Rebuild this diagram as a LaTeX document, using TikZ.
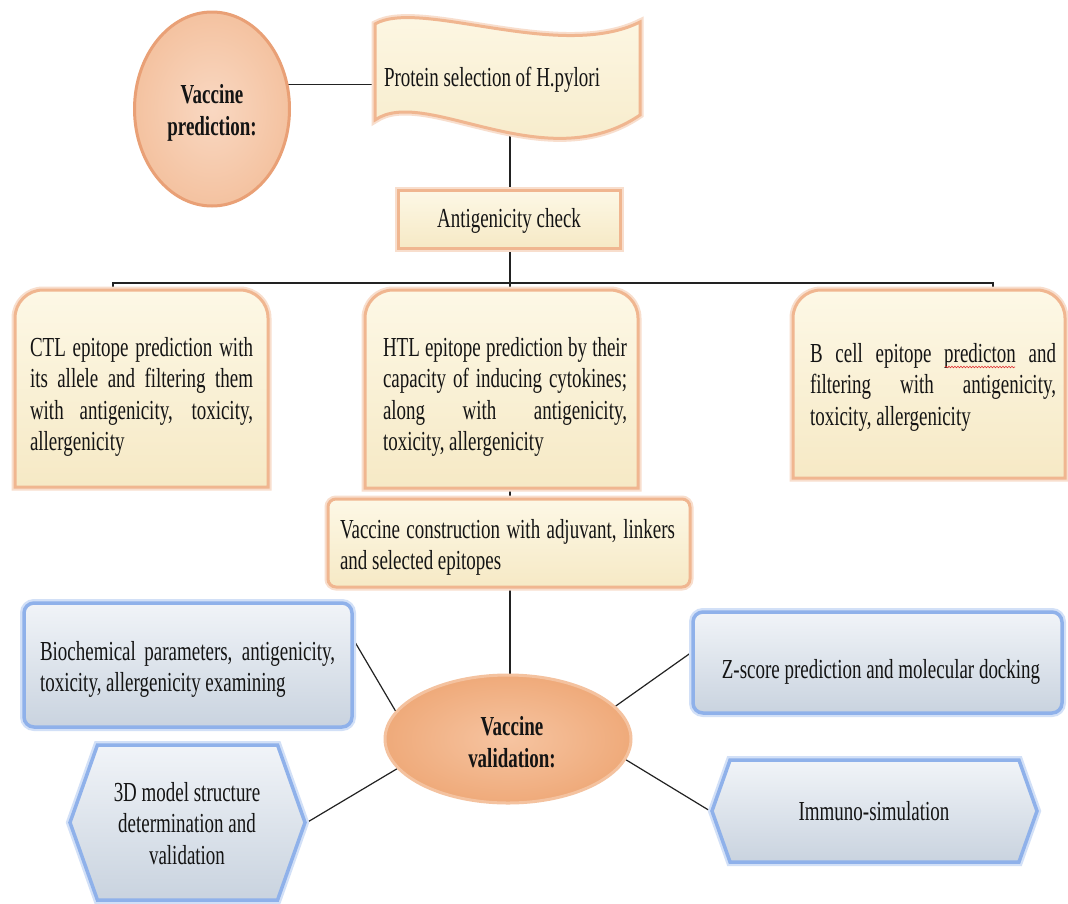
\documentclass[tikz,border=0pt]{standalone}
\usepackage{fontspec}
\setmainfont{Liberation Serif}[FakeStretch=0.69]
\usetikzlibrary{shapes.geometric,shapes.symbols,backgrounds,calc,decorations.pathmorphing}
\definecolor{creamT}{HTML}{FDF8E6}
\definecolor{creamB}{HTML}{F6E9C5}
\definecolor{creamE}{HTML}{F0B690}
\definecolor{blueT}{HTML}{F1F4F8}
\definecolor{blueB}{HTML}{C9D3DF}
\definecolor{blueE}{HTML}{8FB1EA}
\definecolor{predI}{HTML}{F9D8C2}
\definecolor{predO}{HTML}{F4C2A0}
\definecolor{predE}{HTML}{E9A076}
\definecolor{validI}{HTML}{F6C4A1}
\definecolor{validO}{HTML}{EFAA7A}
\definecolor{validE}{HTML}{F4C29F}
\definecolor{linec}{HTML}{222222}
\definecolor{textc}{HTML}{141414}
\definecolor{spellred}{HTML}{E03030}
\newcommand{\jline}[2]{\makebox[#1][s]{#2}}
\newcommand{\tallrule}{\rule{0pt}{20pt}}
\tikzset{
  txt/.style={inner sep=0pt, outer sep=0pt, text=textc, font=\fontsize{27.5}{31.5}\selectfont},
  btxt/.style={inner sep=0pt, outer sep=0pt, text=textc, font=\fontsize{27.5}{32}\selectfont\bfseries},
  conn/.style={draw=linec, line width=1.2pt},
  slot/.style={inner sep=0pt, outer sep=0pt, draw=none},
  cream/.style={preaction={draw=creamE!45, line width=7pt}, top color=creamT, bottom color=creamB, draw=creamE, line width=3pt},
  bluebox/.style={preaction={draw=blueE!40, line width=8pt}, top color=blueT, bottom color=blueB, draw=blueE, line width=3.5pt},
  hexa/.style={signal, signal to=west and east, signal pointer angle=141, inner sep=0pt, bluebox},
  squiggle/.style={draw=spellred, line width=0.6pt, decorate, decoration={snake, amplitude=0.8pt, segment length=3pt}}
}
\newcommand{\roundtop}[1]{%
  \path[cream] (#1.south west) -- ([yshift=-28pt]#1.north west)
    arc[start angle=180, end angle=90, radius=28pt]
    -- ([xshift=-28pt]#1.north east)
    arc[start angle=90, end angle=0, radius=28pt]
    -- (#1.south east) -- cycle;}
\begin{document}
\begin{tikzpicture}[x=1pt,y=1pt]
\useasboundingbox (0,0) rectangle (1068,-903);

% ---- shapes ----
\node[ellipse, minimum width=155pt, minimum height=194pt, inner sep=0pt,
      inner color=predI, outer color=predO, draw=predE, line width=3pt] (pred) at (212,-109) {};

\path[cream] (375,-24) .. controls (420,2) and (560,-62) .. (640,-22)
   -- (640,-115) .. controls (545,-180) and (425,-85) .. (375,-120) -- cycle;
\coordinate (protL) at (375,-86);
\coordinate (protB) at (510,-134);

\node[cream, minimum width=222pt, minimum height=58pt, inner sep=0pt] (anti) at (509,-219) {};

\node[slot, minimum width=253pt, minimum height=197pt] (ctl) at (141.5,-388.5) {};
\node[slot, minimum width=273pt, minimum height=198pt] (htl) at (501.5,-389) {};
\node[slot, minimum width=272pt, minimum height=188pt] (bcell) at (929,-384) {};
\roundtop{ctl}
\roundtop{htl}
\roundtop{bcell}

\node[cream, rounded corners=8pt, minimum width=362pt, minimum height=88pt, inner sep=0pt] (cons) at (509,-543) {};

\node[ellipse, minimum width=246pt, minimum height=128pt, inner sep=0pt,
      inner color=validI, outer color=validO, draw=validE, line width=3pt] (valid) at (508,-739) {};

\node[bluebox, rounded corners=10pt, minimum width=328pt, minimum height=124pt, inner sep=0pt] (bio) at (188,-665) {};
\node[bluebox, rounded corners=10pt, minimum width=369pt, minimum height=101pt, inner sep=0pt] (zsc) at (877.5,-662.5) {};
\node[hexa, minimum width=235pt, minimum height=155pt] (model) at (187.5,-822.5) {};
\node[hexa, minimum width=325pt, minimum height=102pt] (immuno) at (874.5,-811) {};

\coordinate (busL) at (113,-283);
\coordinate (busM) at (510,-283);
\coordinate (busR) at (993,-283);

% ---- connectors ----
\begin{scope}[on background layer]
\fill[white] (0,0) rectangle (1068,-903);
\draw[conn] (pred.18) -- (pred.18 -| protL);
\draw[conn] (protB) -- (anti.north -| protB);
\draw[conn] (anti.south -| busM) -- (busM);
\draw[conn] (ctl.north -| busL) -- (busL) -- (busR) -- (bcell.north -| busR);
\draw[conn] (busM) -- (htl.north -| busM);
\draw[conn] (htl.south -| busM) -- (cons.north -| busM);
\draw[conn] (cons.south -| busM) -- (valid.north -| busM);
\draw[conn] ([yshift=25pt]bio.east) -- (valid.166);
\draw[conn] (model.east) -- (valid.195);
\draw[conn] (valid.17) -- ([yshift=10pt]zsc.west);
\draw[conn] (valid.350) -- (immuno.west);
\end{scope}

% ---- texts ----
\node[btxt, anchor=north, align=center] (predt) at (212,-83) {\tallrule Vaccine\\prediction:};
\node[txt, anchor=base west] (prott) at (384,-86) {Protein selection of H.pylori};
\node[txt, anchor=base] (antit) at (509,-227) {Antigenicity check};
\node[txt, anchor=north west, align=left] (ctlt) at (30,-336) {\tallrule\jline{223pt}{CTL epitope prediction with}\\
  \jline{223pt}{its allele and filtering them}\\
  \jline{223pt}{with antigenicity, toxicity,}\\
  allergenicity};
\node[txt, anchor=north west, align=left] (htlt) at (383,-336) {\tallrule\jline{244pt}{HTL epitope prediction by their}\\
  \jline{244pt}{capacity of inducing cytokines;}\\
  \jline{244pt}{along with antigenicity,}\\
  toxicity, allergenicity};
\node[txt, anchor=north west, align=left] (bcellt) at (810,-342) {\tallrule\jline{246pt}{B cell epitope predicton and}\\
  \jline{246pt}{filtering with antigenicity,}\\
  toxicity, allergenicity};
\path[squiggle] (945,-367) -- (1015,-367);
\node[txt, anchor=north west, align=left] (const) at (340,-518) {\tallrule\jline{335pt}{Vaccine construction with adjuvant, linkers}\\
  and selected epitopes};
\node[btxt, anchor=north, align=center] (validt) at (512,-715) {\tallrule Vaccine\\validation:};
\node[txt, anchor=north west, align=left] (biot) at (40,-640) {\tallrule\jline{295pt}{Biochemical parameters, antigenicity,}\\
  toxicity, allergenicity examining};
\node[txt, anchor=north, align=center] (modelt) at (187,-781) {\tallrule 3D model structure\\determination and\\validation};
\node[txt, anchor=base] (zsct) at (881,-678) {Z-score prediction and molecular docking};
\node[txt, anchor=base] (immunot) at (874,-820) {Immuno-simulation};
\end{tikzpicture}
\end{document}
